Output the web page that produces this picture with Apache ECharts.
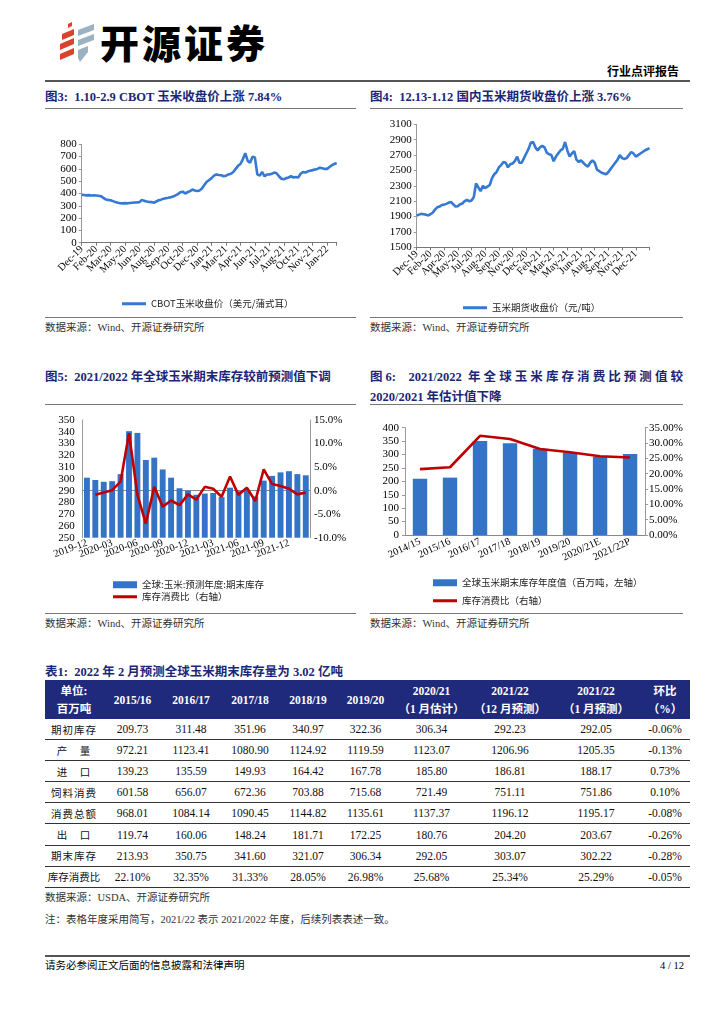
<!DOCTYPE html>
<html><head><meta charset="utf-8">
<script src="https://cdn.jsdelivr.net/npm/echarts@6/dist/echarts.min.js"></script>
<style>
body{margin:0;width:724px;height:1024px;background:#fff;position:relative;font-family:"Liberation Serif","Noto Sans CJK SC",serif;color:#000;overflow:hidden}
.abs{position:absolute}
.title{position:absolute;font-weight:bold;color:#1B2776;font-size:12.5px;white-space:nowrap;line-height:16px}
.rule{position:absolute;height:0;border-top:1px solid #777}
.src{position:absolute;font-size:10.5px;color:#333;white-space:nowrap;line-height:14px}
.chart{position:absolute}
table{position:absolute;left:45px;top:680px;border-collapse:collapse;table-layout:fixed;width:645px}
th{background:#1F2A7C;color:#fff;font-weight:bold;font-size:11.5px;height:39px;padding:0;line-height:18px;text-align:center;white-space:nowrap}
td{height:20.1px;padding:0;text-align:center;font-size:11.5px;border-bottom:1px solid #333;color:#111;white-space:nowrap}
td.lab{font-family:"Noto Sans CJK SC";font-size:10.5px;letter-spacing:1px}
td.lab5{letter-spacing:0}
</style></head><body>

<svg class="abs" style="left:58px;top:22px" width="42" height="44" viewBox="0 0 42 44">
  <polygon points="10,2 14,0 14,4 10,6" fill="#D8432E"/>
  <polygon points="4,12 16,7 16,13 4,18" fill="#D8432E"/>
  <polygon points="2,22 16,16 16,22 2,28" fill="#D8432E"/>
  <polygon points="2,32 16,26 16,32 2,38" fill="#D8432E"/>
  <polygon points="20,8 36,2 36,8 20,14" fill="#9BB2C3"/>
  <polygon points="20,18 36,12 36,18 20,24" fill="#9BB2C3"/>
  <polygon points="20,28 30,24 30,30 22,40 20,36" fill="#9BB2C3"/>
</svg>
<div class="abs" style="left:100px;top:18px;font-family:'Noto Sans CJK SC';font-weight:900;font-size:39px;letter-spacing:3px;line-height:46px">开源证券</div>
<div class="abs" style="left:607px;top:64px;font-family:'Noto Sans CJK SC';font-weight:bold;font-size:12px;line-height:14px">行业点评报告</div>
<div class="rule" style="left:45px;top:80px;width:645px;border-top:2px solid #555"></div>

<div class="title" style="left:45px;top:89px">图3:&nbsp; 1.10-2.9 CBOT 玉米收盘价上涨 7.84%</div>
<div class="rule" style="left:45px;top:108px;width:311px"></div>
<div class="chart" id="c3" style="left:45px;top:110px;width:311px;height:205px"></div>
<div class="rule" style="left:45px;top:317px;width:311px"></div>
<div class="src" style="left:45px;top:321px">数据来源：Wind、开源证券研究所</div>

<div class="title" style="left:370px;top:89px">图4:&nbsp; 12.13-1.12 国内玉米期货收盘价上涨 3.76%</div>
<div class="rule" style="left:370px;top:108px;width:313px"></div>
<div class="chart" id="c4" style="left:370px;top:110px;width:313px;height:205px"></div>
<div class="rule" style="left:370px;top:317px;width:313px"></div>
<div class="src" style="left:370px;top:321px">数据来源：Wind、开源证券研究所</div>

<div class="title" style="left:45px;top:369px">图5:&nbsp; 2021/2022 年全球玉米期末库存较前预测值下调</div>
<div class="rule" style="left:45px;top:404px;width:311px"></div>
<div class="chart" id="c5" style="left:45px;top:405px;width:311px;height:207px"></div>
<div class="rule" style="left:45px;top:613px;width:311px"></div>
<div class="src" style="left:45px;top:617px">数据来源：Wind、开源证券研究所</div>

<div class="title" style="left:370px;top:369px;width:313px;text-align:justify;text-align-last:justify">图6:&nbsp; 2021/2022 年全球玉米库存消费比预测值较</div>
<div class="title" style="left:370px;top:389px">2020/2021 年估计值下降</div>
<div class="rule" style="left:370px;top:404px;width:313px"></div>
<div class="chart" id="c6" style="left:370px;top:405px;width:316px;height:207px"></div>
<div class="rule" style="left:370px;top:613px;width:313px"></div>
<div class="src" style="left:370px;top:617px">数据来源：Wind、开源证券研究所</div>

<div class="title" style="left:45px;top:664px">表1:&nbsp; 2022 年 2 月预测全球玉米期末库存量为 3.02 亿吨</div>
<table id="tbl"></table>
<div class="src" style="left:45px;top:891px">数据来源：USDA、开源证券研究所</div>
<div class="src" style="left:45px;top:913px">注：表格年度采用简写，2021/22 表示 2021/2022 年度，后续列表表述一致。</div>

<div class="rule" style="left:45px;top:955px;width:645px;border-top:2px solid #555"></div>
<div class="src" style="left:45px;top:959px;color:#000">请务必参阅正文后面的信息披露和法律声明</div>
<div class="src" style="left:660px;top:959px;color:#000">4 / 12</div>

<script>
// ---------- Figure 3: CBOT corn close (weekly, cents/bushel) ----------
const cbotTicks = ['Dec-19','Feb-20','Mar-20','May-20','Jun-20','Aug-20','Sep-20','Oct-20','Dec-20','Jan-21','Mar-21','Apr-21','Jun-21','Jul-21','Aug-21','Oct-21','Nov-21','Jan-22'];
const cbotPrice = [
 390,388,385,387,384,386,
 384,382,378,365,352,348,
 345,338,330,325,322,320,
 322,320,323,325,327,328,
 330,348,340,335,332,330,
 325,335,345,350,358,362,
 365,370,375,385,395,410,
 415,400,410,420,432,425,
 420,425,440,470,495,510,
 525,545,555,550,548,540,
 545,555,560,575,600,625,
 640,680,728,665,650,698,
 692,555,545,575,540,555,
 555,560,570,565,540,520,
 515,525,530,540,530,535,
 530,560,575,570,580,585,
 590,595,600,610,605,600,
 600,615,630,640,648
];
// ---------- Figure 4: domestic corn futures close (yuan/ton) ----------
const dceTicks = ['Dec-19','Feb-20','Apr-20','May-20','Jul-20','Aug-20','Sep-20','Nov-20','Dec-20','Feb-21','Mar-21','May-21','Jun-21','Aug-21','Sep-21','Nov-21','Dec-21'];
const dcePrice = [
 1915,1925,1935,1930,1925,1915,
 1930,1950,1990,2020,2030,2050,
 2055,2065,2080,2090,2060,2030,
 2035,2060,2070,2100,2115,2100,
 2110,2150,2330,2280,2230,2300,
 2270,2290,2310,2400,2450,2480,
 2540,2570,2610,2600,2540,2580,
 2590,2620,2680,2600,2600,2660,
 2720,2780,2860,2870,2800,2760,
 2800,2820,2800,2730,2710,2700,
 2620,2680,2720,2760,2780,2870,
 2760,2680,2720,2750,2640,2610,
 2630,2600,2570,2550,2600,2630,
 2600,2510,2490,2470,2460,2450,
 2480,2520,2560,2600,2640,2700,
 2660,2650,2660,2700,2740,2720,
 2680,2700,2720,2740,2760,2775,
 2790
];
// ---------- Figure 5: monthly global ending stocks & stocks-to-use change ----------
const wasdeMonths = ['2019-12','2020-01','2020-02','2020-03','2020-04','2020-05','2020-06','2020-07','2020-08','2020-09','2020-10','2020-11','2020-12','2021-01','2021-02','2021-03','2021-04','2021-05','2021-06','2021-07','2021-08','2021-09','2021-10','2021-11','2021-12','2022-01','2022-02'];
const endingStock = [301,299,297.5,298,304,340.5,339,316,318,308,301,292,290,286.5,287.5,288,284.5,292.5,289.5,291,285,298.5,302.5,305.5,306.5,304,303];
const stockUseChg = [null,-0.9,-0.4,0.1,1.9,12.2,-0.9,-7.0,0.8,-3.4,-2.1,-3.1,-0.8,-1.9,0.8,0.4,-1.3,3.0,-0.9,0.6,-2.2,4.5,1.4,1.0,0.4,-0.8,-0.4];
// ---------- Figure 6: yearly global ending stocks & stocks-to-use ----------
const cropYears = ['2014/15','2015/16','2016/17','2017/18','2018/19','2019/20','2020/21E','2021/22P'];
const yearStock = [209.73,213.93,350.75,341.60,321.07,306.34,292.05,302.22];
const yearRatio = [21.5,22.10,32.35,31.33,28.05,26.98,25.68,25.29];
// ---------- Table 1 ----------
const tblHead = [['单位:','百万吨'],['2015/16'],['2016/17'],['2017/18'],['2018/19'],['2019/20'],['2020/21','（1 月估计）'],['2021/22','（12 月预测）'],['2021/22','（1 月预测）'],['环比','（%）']];
const tblColW = [58,59,58,60,56,59,73,84,88,50];
const rowBegin   = ['期初库存','209.73','311.48','351.96','340.97','322.36','306.34','292.23','292.05','-0.06%'];
const rowProd    = ['产　量','972.21','1123.41','1080.90','1124.92','1119.59','1123.07','1206.96','1205.35','-0.13%'];
const rowImport  = ['进　口','139.23','135.59','149.93','164.42','167.78','185.80','186.81','188.17','0.73%'];
const rowFeed    = ['饲料消费','601.58','656.07','672.36','703.88','715.68','721.49','751.11','751.86','0.10%'];
const rowConsume = ['消费总额','968.01','1084.14','1090.45','1144.82','1135.61','1137.37','1196.12','1195.17','-0.08%'];
const rowExport  = ['出　口','119.74','160.06','148.24','181.71','172.25','180.76','204.20','203.67','-0.26%'];
const rowEnd     = ['期末库存','213.93','350.75','341.60','321.07','306.34','292.05','303.07','302.22','-0.28%'];
const rowRatio   = ['库存消费比','22.10%','32.35%','31.33%','28.05%','26.98%','25.68%','25.34%','25.29%','-0.05%'];

const FONT = 'Liberation Serif, Noto Sans CJK SC, serif';
const CJK = 'Noto Sans CJK SC, sans-serif';
const BLUE = '#3579D2';
const BAR = '#3473C5';
const RED = '#C00000';

function timeChart(id, ticks, values, name, grid, ymin, ymax, yint, legendPos) {
  const c = echarts.init(document.getElementById(id), null, {renderer: 'canvas'});
  c.setOption({
    animation: false,
    textStyle: {fontFamily: FONT},
    grid: grid,
    legend: {left: legendPos[0], top: legendPos[1], icon: 'rect', itemWidth: 24, itemHeight: 3,
      itemGap: 4, textStyle: {fontFamily: CJK, fontSize: 9.5, color: '#222'}, data: [name]},
    xAxis: {type: 'category', boundaryGap: false, data: values.map((_, i) => String(i)),
      axisLine: {lineStyle: {color: '#777'}},
      axisTick: {interval: 5, length: 3, lineStyle: {color: '#777'}},
      axisLabel: {interval: 0, rotate: 45, margin: 5, fontSize: 10.5, color: '#000', fontFamily: FONT,
        formatter: v => { const i = +v; return i % 6 === 0 ? (ticks[i / 6] || '') : ''; }}},
    yAxis: {type: 'value', min: ymin, max: ymax, interval: yint,
      axisLine: {show: true, lineStyle: {color: '#999'}}, axisTick: {show: true, length: 3, lineStyle: {color: '#999'}},
      splitLine: {show: false}, axisLabel: {fontSize: 11, color: '#000', margin: 5, fontFamily: FONT, formatter: v => String(v)}},
    series: [{type: 'line', name: name, data: values, symbol: 'none', color: BLUE,
      lineStyle: {width: 2.6, color: BLUE}}]
  });
}
timeChart('c3', cbotTicks, cbotPrice, 'CBOT玉米收盘价（美元/蒲式耳）', {left: 36.7, right: 19.3, top: 34.3, bottom: 72.3}, 0, 800, 100, [72, 184]);
timeChart('c4', dceTicks, dcePrice, '玉米期货收盘价（元/吨）', {left: 46.7, right: 33.5, top: 14.3, bottom: 67.7}, 1500, 3100, 200, [88, 188]);

// Figure 5
(function(){
  const c = echarts.init(document.getElementById('c5'));
  const n1 = '全球:玉米:预测年度:期末库存', n2 = '库存消费比（右轴）';
  c.setOption({
    animation: false,
    textStyle: {fontFamily: FONT},
    grid: {left: 37.7, right: 46, top: 15, bottom: 74.3},
    legend: [
      {left: 63, top: 170, icon: 'rect', itemWidth: 24, itemHeight: 7, data: [n1], textStyle: {fontFamily: CJK, fontSize: 9.5, color: '#222'}},
      {left: 63, top: 182, icon: 'rect', itemWidth: 24, itemHeight: 3, data: [n2], textStyle: {fontFamily: CJK, fontSize: 9.5, color: '#222'}}
    ],
    xAxis: {type: 'category', data: wasdeMonths,
      axisLine: {lineStyle: {color: '#888'}}, axisTick: {show: false},
      axisLabel: {interval: 0, rotate: 20, margin: 5, fontSize: 10.5, color: '#000', fontFamily: FONT,
        formatter: (v) => (wasdeMonths.indexOf(v) % 3 === 0 ? v : '')}},
    yAxis: [
      {type: 'value', min: 250, max: 350, interval: 10, axisLine: {show: true, lineStyle: {color: '#999'}},
        axisTick: {show: false}, splitLine: {show: false}, axisLabel: {fontSize: 11, color: '#000', margin: 8, fontFamily: FONT}},
      {type: 'value', min: -10, max: 15, interval: 5, axisLine: {show: true, lineStyle: {color: '#999'}},
        axisTick: {show: false}, splitLine: {show: false},
        axisLabel: {fontSize: 11, color: '#000', margin: 4, fontFamily: FONT, formatter: v => v.toFixed(1) + '%'}}
    ],
    series: [
      {type: 'bar', name: n1, data: endingStock, barWidth: '70%', color: BAR, itemStyle: {color: BAR}},
      {type: 'line', name: n2, yAxisIndex: 1, data: stockUseChg, symbol: 'none', color: RED, lineStyle: {width: 2.6, color: RED}}
    ]
  });
})();

// Figure 6
(function(){
  const c = echarts.init(document.getElementById('c6'));
  const n1 = '全球玉米期末库存年度值（百万吨，左轴）', n2 = '库存消费比（右轴）';
  c.setOption({
    animation: false,
    textStyle: {fontFamily: FONT},
    grid: {left: 35, right: 38.3, top: 22.7, bottom: 77},
    legend: [
      {left: 58, top: 168, icon: 'rect', itemWidth: 24, itemHeight: 7, data: [n1], textStyle: {fontFamily: CJK, fontSize: 9.5, color: '#222'}},
      {left: 58, top: 186, icon: 'rect', itemWidth: 24, itemHeight: 3, data: [n2], textStyle: {fontFamily: CJK, fontSize: 9.5, color: '#222'}}
    ],
    xAxis: {type: 'category', data: cropYears,
      axisLine: {lineStyle: {color: '#888'}}, axisTick: {show: false},
      axisLabel: {interval: 0, rotate: 25, margin: 6, fontSize: 10.5, color: '#000', fontFamily: FONT}},
    yAxis: [
      {type: 'value', min: 0, max: 400, interval: 50, axisLine: {show: true, lineStyle: {color: '#999'}},
        axisTick: {show: true, length: 3}, splitLine: {show: false}, axisLabel: {fontSize: 11, color: '#000', margin: 6, fontFamily: FONT}},
      {type: 'value', min: 0, max: 35, interval: 5, axisLine: {show: true, lineStyle: {color: '#999'}},
        axisTick: {show: true, length: 3}, splitLine: {show: false},
        axisLabel: {fontSize: 11, color: '#000', margin: 4, fontFamily: FONT, formatter: v => v.toFixed(2) + '%'}}
    ],
    series: [
      {type: 'bar', name: n1, data: yearStock, barWidth: '48%', color: BAR, itemStyle: {color: BAR}},
      {type: 'line', name: n2, yAxisIndex: 1, data: yearRatio, symbol: 'none', color: RED, lineStyle: {width: 2.6, color: RED}}
    ]
  });
})();

// Table
(function(){
  const t = document.getElementById('tbl');
  let html = '<colgroup>' + tblColW.map(w => '<col style="width:' + w + 'px">').join('') + '</colgroup><tr>';
  html += tblHead.map(h => '<th>' + h.join('<br>') + '</th>').join('') + '</tr>';
  [rowBegin,rowProd,rowImport,rowFeed,rowConsume,rowExport,rowEnd,rowRatio].forEach(r => {
    html += '<tr>' + r.map((v, i) => '<td' + (i === 0 ? ' class="lab' + (v.length > 4 ? ' lab5' : '') + '"' : '') + '>' + v + '</td>').join('') + '</tr>';
  });
  t.innerHTML = html;
})();
</script>
</body></html>
